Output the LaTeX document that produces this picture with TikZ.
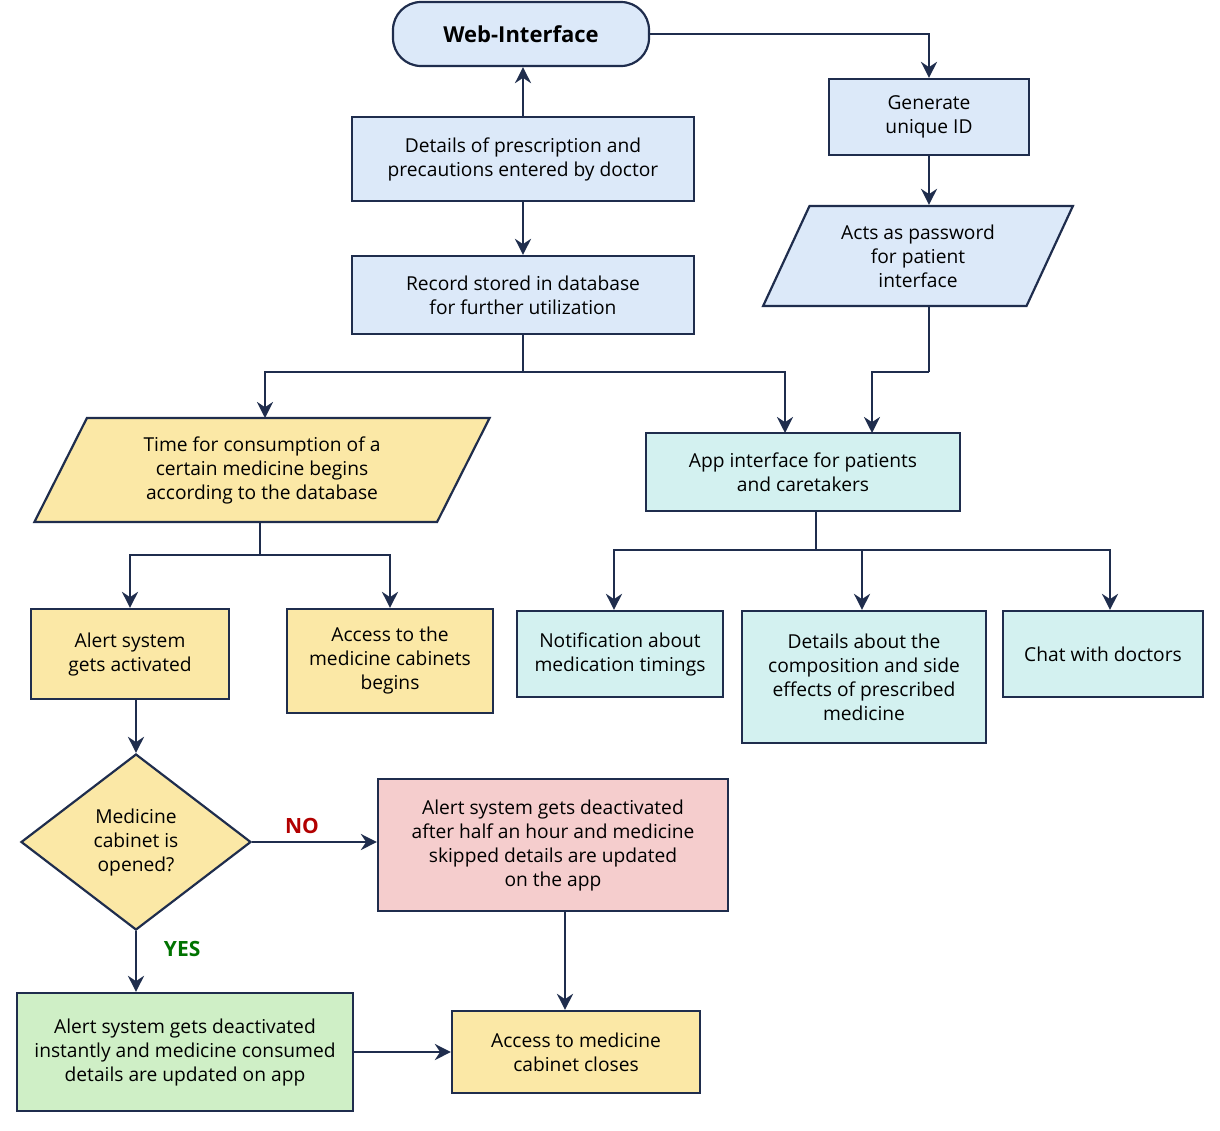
\documentclass[tikz,border=0pt]{standalone}
\usepackage{fontspec}
\setmainfont{Open Sans}
\usetikzlibrary{shapes.geometric,arrows.meta}
\definecolor{edge navy}{HTML}{1F2D4D}
\definecolor{sky fill}{HTML}{DCE9F9}
\definecolor{butter fill}{HTML}{FBE8A6}
\definecolor{mint fill}{HTML}{D3F1F0}
\definecolor{rose fill}{HTML}{F5CDCD}
\definecolor{leaf fill}{HTML}{CFEFC6}

\tikzset{
  box/.style={draw=edge navy, line width=1.1pt, align=center, font=\fontsize{9.6}{12}\selectfont, inner sep=2pt},
  slantbox/.style={box, trapezium, trapezium left angle=64, trapezium right angle=116, trapezium stretches=true},
  flow/.style={draw=edge navy, line width=1.3pt, -{Stealth[length=8pt,width=8pt]}},
  link/.style={draw=edge navy, line width=1.3pt}
}

\begin{document}
\begin{tikzpicture}[x=0.5pt,y=-0.5pt]
  \useasboundingbox (0,0) rectangle (1220,1130);
  % top column
  \node[box, rounded corners=14pt, fill=sky fill, minimum width=128pt, minimum height=32pt, font=\fontsize{11}{13}\selectfont\bfseries] (web) at (521,34) {Web-Interface};
  \node[box, fill=sky fill, minimum width=171pt, minimum height=42pt] (details) at (523,159) {Details of prescription and\\precautions entered by doctor};
  \node[box, fill=sky fill, minimum width=171pt, minimum height=39pt] (record) at (523,295) {Record stored in database\\for further utilization};
  \node[box, fill=sky fill, minimum width=100pt, minimum height=38pt] (uid) at (929,117) {Generate\\unique ID};
  \node[slantbox, fill=sky fill, minimum width=155pt, minimum height=50pt] (pass) at (918,256) {Acts as password\\for patient\\interface};
  % middle row
  \node[slantbox, fill=butter fill, minimum width=228pt, minimum height=52pt] (timing) at (262,470) {Time for consumption of a\\certain medicine begins\\according to the database};
  \node[box, fill=mint fill, minimum width=157pt, minimum height=39pt] (app) at (803,472) {App interface for patients\\and caretakers};
  \node[box, fill=butter fill, minimum width=99pt, minimum height=45pt] (alert) at (130,654) {Alert system\\gets activated};
  \node[box, fill=butter fill, minimum width=103pt, minimum height=52pt] (cabinet) at (390,661) {Access to the\\medicine cabinets\\begins};
  \node[box, fill=mint fill, minimum width=103pt, minimum height=43pt] (notify) at (620,654) {Notification about\\medication timings};
  \node[box, fill=mint fill, minimum width=122pt, minimum height=66pt] (compo) at (864,677) {Details about the\\composition and side\\effects of prescribed\\medicine};
  \node[box, fill=mint fill, minimum width=100pt, minimum height=43pt] (chat) at (1103,654) {Chat with doctors};
  % bottom part
  \node[box, diamond, aspect=1.3, fill=butter fill, minimum width=115pt, minimum height=88pt, inner sep=0pt] (opened) at (136,842) {Medicine\\cabinet is\\opened?};
  \node[box, fill=rose fill, minimum width=175pt, minimum height=66pt] (skipped) at (553,845) {Alert system gets deactivated\\after half an hour and medicine\\skipped details are updated\\on the app};
  \node[box, fill=leaf fill, minimum width=168pt, minimum height=59pt] (consumed) at (185,1052) {Alert system gets deactivated\\instantly and medicine consumed\\details are updated on app};
  \node[box, fill=butter fill, minimum width=124pt, minimum height=41pt] (closes) at (576,1052) {Access to medicine\\cabinet closes};

  % connectors
  \draw[flow] (details.north) -- (details.north|-web.south);
  \draw[flow] (web.east) -| (uid.north);
  \draw[flow] (uid) -- (uid|-pass.north);
  \draw[flow] (details) -- (record);
  \draw[link] (record.south) -- (523,372);
  \draw[flow] (523,372) -| (265,418);
  \draw[flow] (523,372) -| (785,433);
  \draw[link] (pass.south-|929,0) -- (929,372);
  \draw[flow] (929,372) -| (872,433);
  \draw[link] (timing.south-|260,0) -- (260,555);
  \draw[flow] (260,555) -| (alert.north);
  \draw[flow] (260,555) -| (cabinet.north);
  \draw[link] (app.south-|816,0) -- (816,550);
  \draw[flow] (816,550) -| (notify.north-|614,0);
  \draw[flow] (816,550) -| (compo.north-|862,0);
  \draw[flow] (816,550) -| (chat.north-|1110,0);
  \draw[flow] (alert.south-|136,0) -- (opened.north);
  \draw[flow] (opened.east) -- (skipped.west|-opened.east) node[pos=0.4, above, text=red!70!black, font=\fontsize{10.5}{12}\selectfont\bfseries] {NO};
  \draw[flow] (opened.south) -- (consumed.north-|136,0) node[pos=0.3, right=10pt, text=green!45!black, font=\fontsize{10.5}{12}\selectfont\bfseries] {YES};
  \draw[flow] (skipped.south-|565,0) -- (closes.north-|565,0);
  \draw[flow] (consumed.east) -- (closes.west);
\end{tikzpicture}
\end{document}
